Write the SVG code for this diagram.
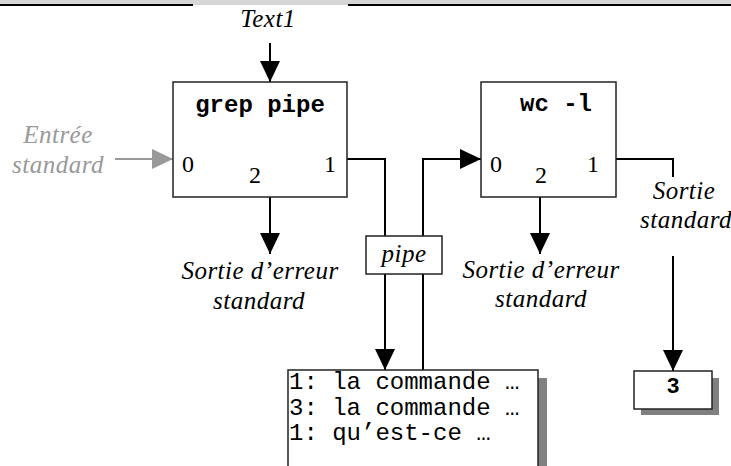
<svg xmlns="http://www.w3.org/2000/svg" width="731" height="466" viewBox="0 0 731 466">
  <style>
    .box { fill: #ffffff; stroke: #222222; stroke-width: 1.5; }
    .shadow { fill: #808080; }
    .wire { fill: none; stroke: #000000; stroke-width: 2; }
    .wire-in { fill: none; stroke: #999999; stroke-width: 2; }
    .lbl { font-family: "Liberation Serif", "Times New Roman", serif; font-style: italic; font-size: 25px; letter-spacing: 0.5px; fill: #000000; }
    .grey { fill: #999999; }
    .port { font-family: "Liberation Serif", "Times New Roman", serif; font-size: 24px; fill: #000000; }
    .cmd { font-family: "Liberation Mono", "Courier New", monospace; font-weight: bold; font-size: 24px; fill: #000000; }
    .out { font-family: "Liberation Mono", "Courier New", monospace; font-size: 24px; fill: #000000; }
    .mid { text-anchor: middle; }
  </style>
  <defs>
    <marker id="arrow" viewBox="0 0 21 20" refX="21" refY="10" markerWidth="21" markerHeight="20" markerUnits="userSpaceOnUse" orient="auto">
      <path d="M0,0 L21,10 L0,20 z" fill="#000000"/>
    </marker>
    <marker id="arrow-grey" viewBox="0 0 21 20" refX="21" refY="10" markerWidth="21" markerHeight="20" markerUnits="userSpaceOnUse" orient="auto">
      <path d="M0,0 L21,10 L0,20 z" fill="#999999"/>
    </marker>
  </defs>

  <!-- page header strip -->
  <g id="header">
    <rect x="0" y="0" width="731" height="5" fill="#d6d6d6"/>
    <line x1="0" y1="5" x2="193" y2="5" stroke="#000000" stroke-width="2"/>
    <line x1="348" y1="5" x2="731" y2="5" stroke="#000000" stroke-width="2"/>
  </g>

  <!-- connectors -->
  <g id="connectors">
    <line class="wire" x1="270" y1="43" x2="270" y2="82" marker-end="url(#arrow)"/>
    <line class="wire-in" x1="115" y1="159" x2="173" y2="159" marker-end="url(#arrow-grey)"/>
    <line class="wire" x1="270" y1="197" x2="270" y2="254" marker-end="url(#arrow)"/>
    <polyline class="wire" points="347,159 385,159 385,370" marker-end="url(#arrow)"/>
    <polyline class="wire" points="423,370 423,159 481,159" marker-end="url(#arrow)"/>
    <line class="wire" x1="540" y1="197" x2="540" y2="254" marker-end="url(#arrow)"/>
    <polyline class="wire" points="616,159 673,159 673,177"/>
    <line class="wire" x1="673" y1="256" x2="673" y2="371" marker-end="url(#arrow)"/>
  </g>

  <g id="text1">
    <text class="lbl mid" x="268" y="27">Text1</text>
  </g>

  <g id="stdin">
    <text class="lbl mid grey"><tspan x="58" y="143">Entrée</tspan><tspan x="58" y="173">standard</tspan></text>
  </g>

  <g id="grep">
    <rect class="box" x="173" y="82" width="174" height="115"/>
    <text class="cmd mid" x="260" y="112">grep pipe</text>
    <text class="port" x="182" y="172">0</text>
    <text class="port" x="249" y="183">2</text>
    <text class="port" x="324" y="172">1</text>
  </g>

  <g id="grep-stderr">
    <text class="lbl mid"><tspan x="260" y="279">Sortie d’erreur</tspan><tspan x="259" y="309">standard</tspan></text>
  </g>

  <g id="pipe">
    <rect class="box" x="366" y="236" width="76" height="38"/>
    <text class="lbl mid" x="404" y="262">pipe</text>
  </g>

  <g id="wc">
    <rect class="box" x="481" y="82" width="135" height="115"/>
    <text class="cmd mid" x="556" y="111">wc -l</text>
    <text class="port" x="490" y="172">0</text>
    <text class="port" x="535" y="183">2</text>
    <text class="port" x="587" y="172">1</text>
  </g>

  <g id="wc-stderr">
    <text class="lbl mid"><tspan x="541" y="278">Sortie d’erreur</tspan><tspan x="541" y="307">standard</tspan></text>
  </g>

  <g id="wc-stdout">
    <text class="lbl mid"><tspan x="684" y="199">Sortie</tspan><tspan x="686" y="228">standard</tspan></text>
  </g>

  <g id="grep-output">
    <rect class="shadow" x="296" y="378" width="251" height="100"/>
    <rect class="box" x="288" y="370" width="250" height="100"/>
    <text class="out" x="289" y="389">1: la commande …</text>
    <text class="out" x="289" y="415">3: la commande …</text>
    <text class="out" x="289" y="440">1: qu’est-ce …</text>
  </g>

  <g id="count">
    <rect class="shadow" x="641" y="378" width="78" height="37"/>
    <rect class="box" x="634" y="371" width="78" height="38"/>
    <text class="cmd mid" x="673" y="393" style="font-size:22px">3</text>
  </g>
</svg>
